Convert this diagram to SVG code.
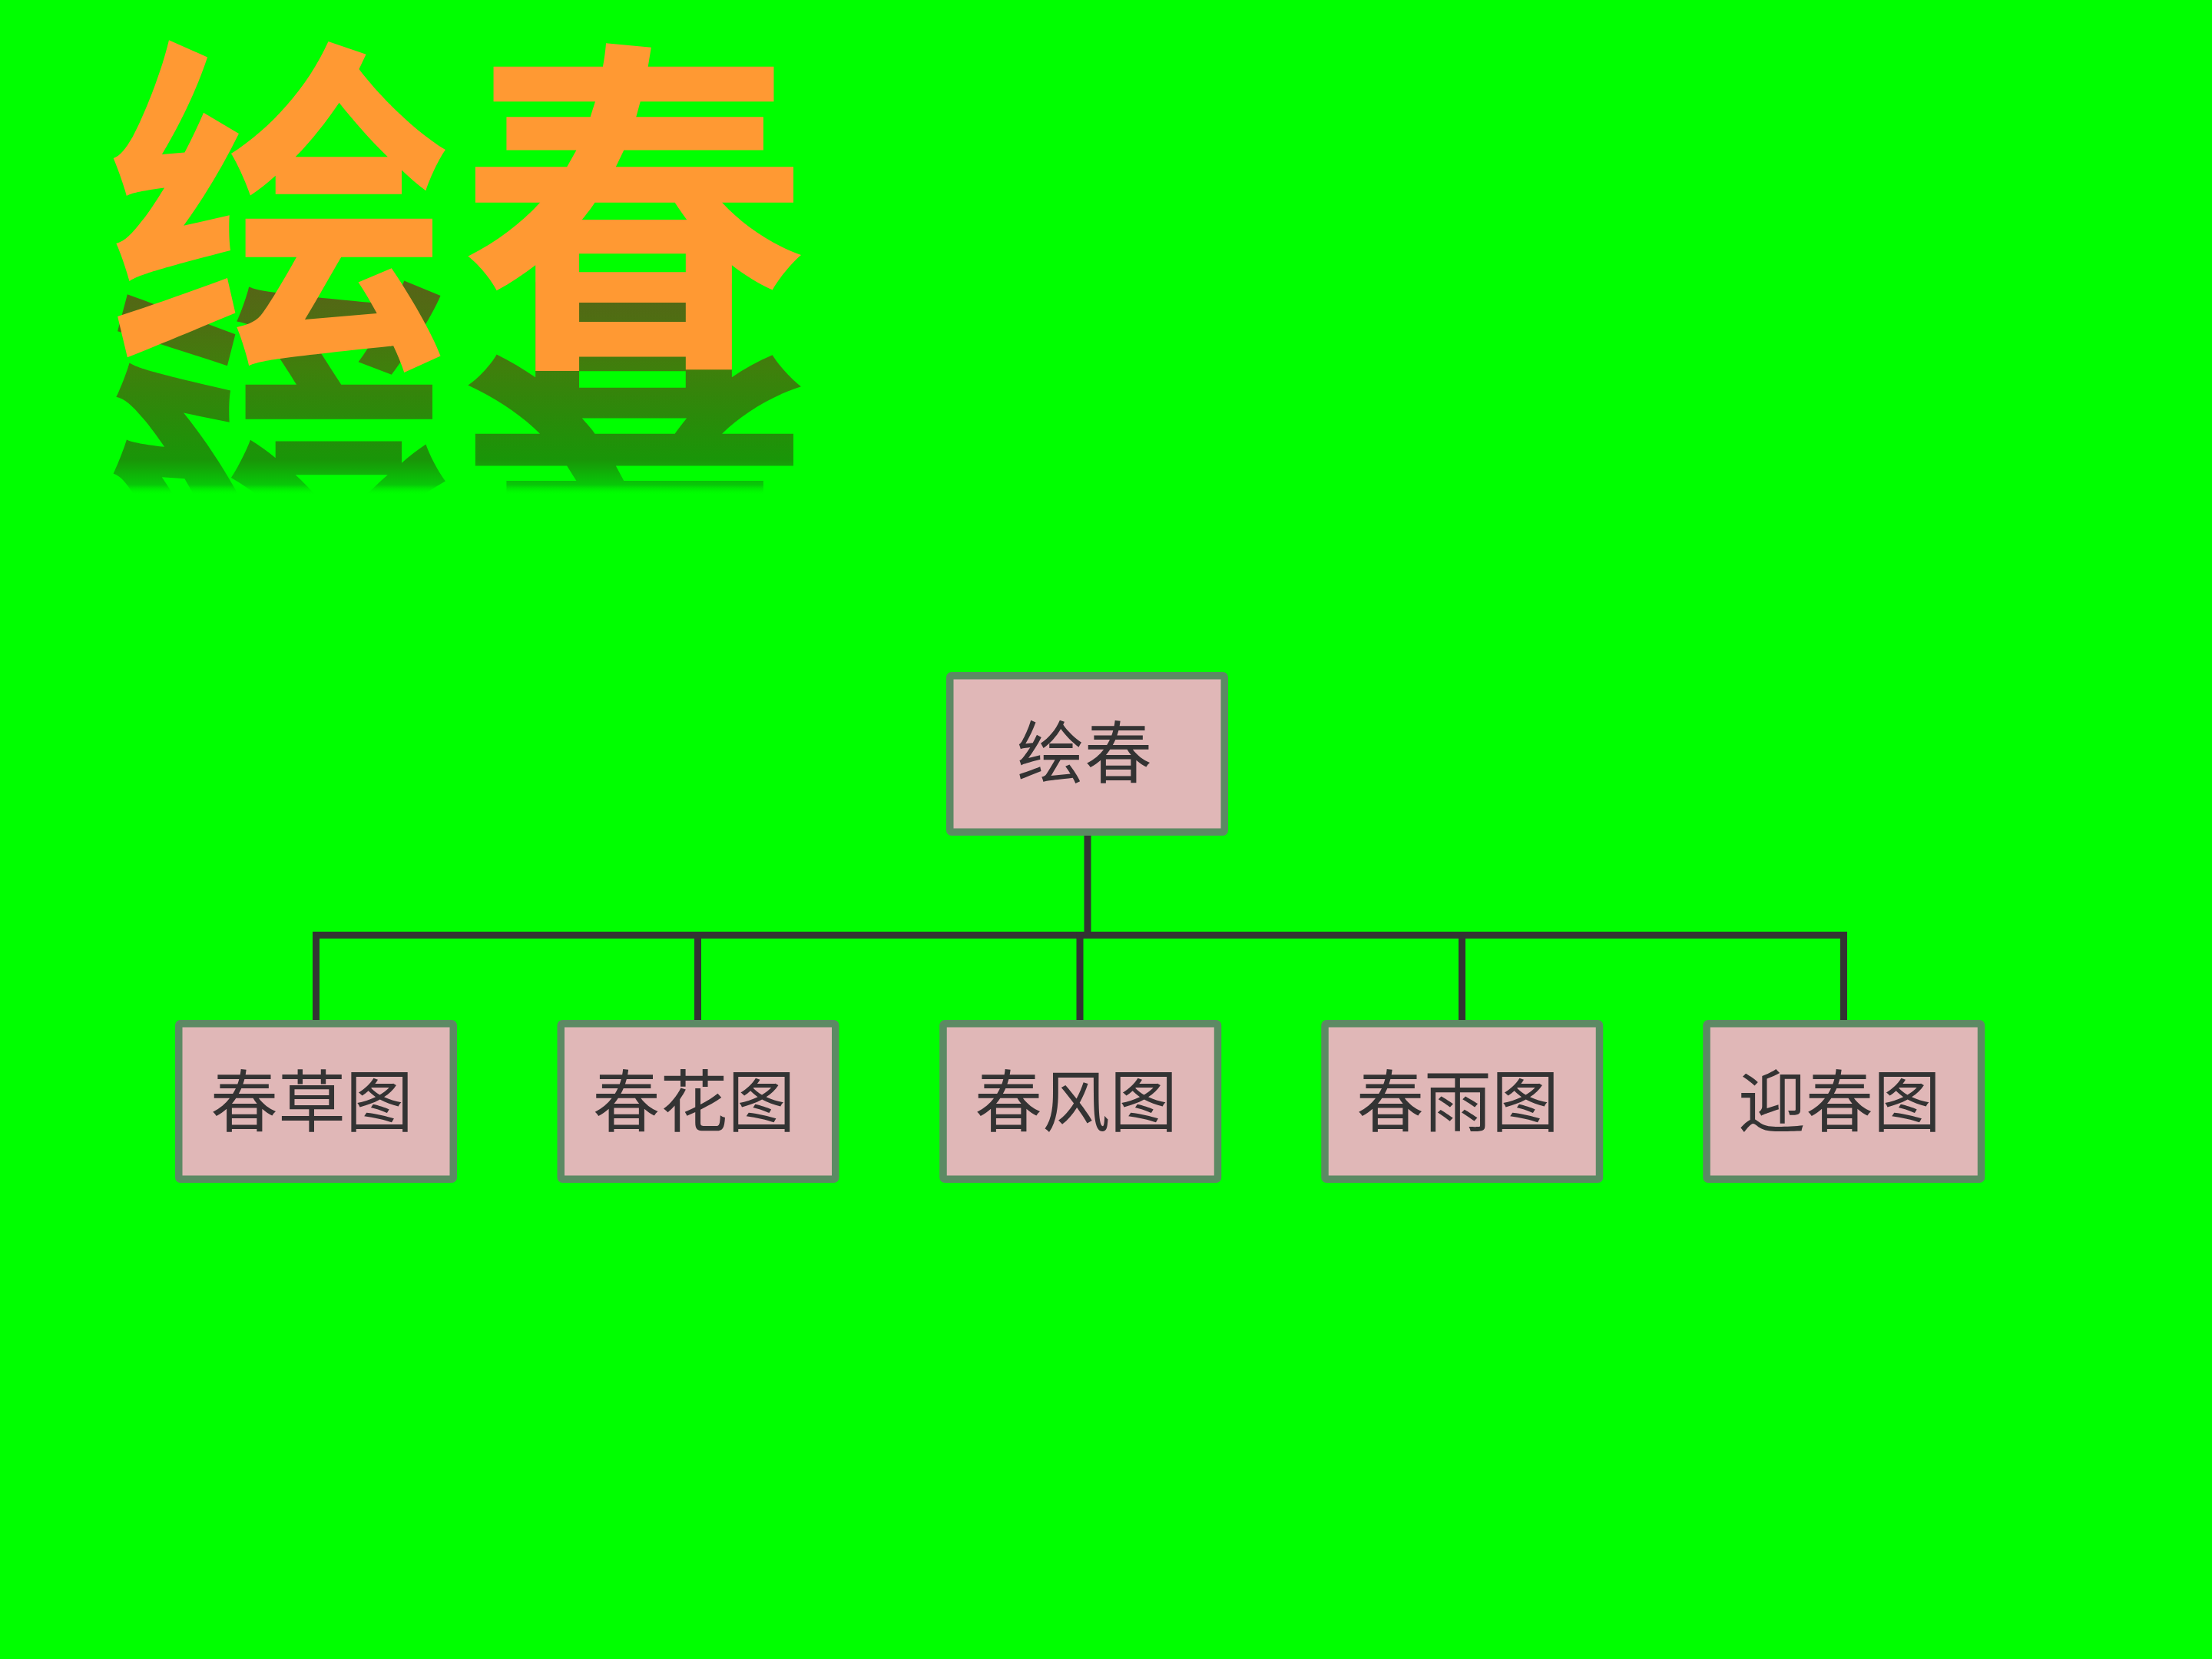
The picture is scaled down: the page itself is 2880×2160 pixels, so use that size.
<svg xmlns="http://www.w3.org/2000/svg" width="2880" height="2160" viewBox="0 0 2880 2160">
<defs>
<style>
.title{font-family:"Noto Sans CJK SC","Noto Sans",sans-serif;font-weight:700;font-size:455px;letter-spacing:4px}
.box{fill:#E0B7B7;stroke:#5C8A64;stroke-width:9.5}
.lbl{font-family:"Noto Sans CJK SC","Noto Sans",sans-serif;font-size:88px;fill:#333333;text-anchor:middle}
.conn{stroke:#333333;stroke-width:9;fill:none;stroke-linecap:square}
</style>
<linearGradient id="refl" gradientUnits="userSpaceOnUse" x1="0" y1="472" x2="0" y2="175">
<stop offset="0" stop-color="#556616"/>
<stop offset="0.16" stop-color="#4E6E12"/>
<stop offset="0.38" stop-color="#3F7F0C"/>
<stop offset="0.61" stop-color="#2B8A0A"/>
<stop offset="0.83" stop-color="#199608"/>
<stop offset="0.95" stop-color="#08C808"/>
<stop offset="1" stop-color="#00FF00" stop-opacity="0"/>
</linearGradient>
</defs>
<rect width="2880" height="2160" fill="#00FF00"/>
<g id="title">
<g id="title-reflection" transform="matrix(1 0 0 -0.9 0 802)">
<text class="title" x="139" y="443" fill="url(#refl)">绘春</text>
</g>
<text class="title" x="139" y="443" fill="#FF9933">绘春</text>
</g>
<g id="connectors">
<line class="conn" x1="1416" y1="1090" x2="1416" y2="1217.5"/>
<line class="conn" x1="411.5" y1="1217.5" x2="2400.5" y2="1217.5"/>
<line class="conn" x1="411.5" y1="1217.5" x2="411.5" y2="1326"/>
<line class="conn" x1="908.5" y1="1217.5" x2="908.5" y2="1326"/>
<line class="conn" x1="1406" y1="1217.5" x2="1406" y2="1326"/>
<line class="conn" x1="1903.5" y1="1217.5" x2="1903.5" y2="1326"/>
<line class="conn" x1="2400.5" y1="1217.5" x2="2400.5" y2="1326"/>
</g>
<g id="node-root">
<rect class="box" x="1236.75" y="879.75" width="357.5" height="203.5" rx="2"/>
<text class="lbl" x="1412" y="1012">绘春</text>
</g>
<g id="node-1">
<rect class="box" x="232.75" y="1332.75" width="357.5" height="202.5" rx="2"/>
<text class="lbl" x="406" y="1466">春草图</text>
</g>
<g id="node-2">
<rect class="box" x="730.25" y="1332.75" width="357.5" height="202.5" rx="2"/>
<text class="lbl" x="903.5" y="1466">春花图</text>
</g>
<g id="node-3">
<rect class="box" x="1228" y="1332.75" width="357.5" height="202.5" rx="2"/>
<text class="lbl" x="1401" y="1466">春风图</text>
</g>
<g id="node-4">
<rect class="box" x="1725" y="1332.75" width="357.5" height="202.5" rx="2"/>
<text class="lbl" x="1898" y="1466">春雨图</text>
</g>
<g id="node-5">
<rect class="box" x="2222" y="1332.75" width="357.5" height="202.5" rx="2"/>
<text class="lbl" x="2395" y="1466">迎春图</text>
</g>
</svg>
